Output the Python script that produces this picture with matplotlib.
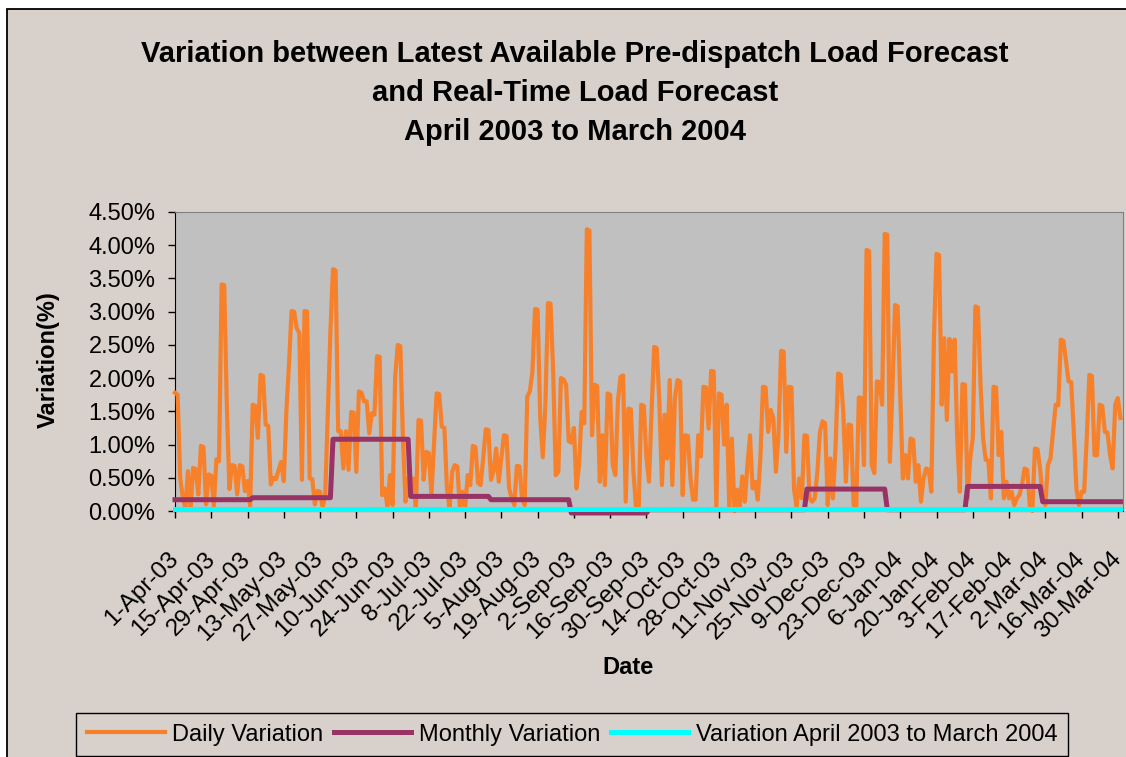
import numpy as np
import matplotlib.pyplot as plt
from matplotlib.patches import Rectangle

plt.rcParams['font.family'] = ['Liberation Sans', 'DejaVu Sans']

# monthly data (Apr-03 .. Mar-04)
days_in_month = [30, 31, 30, 31, 31, 30, 31, 30, 31, 31, 29, 31]
monthly_var = [0.17, 0.20, 1.08, 0.22, 0.17, -0.03, 0.02, 0.02, 0.33, 0.02, 0.37, 0.14]
overall_var = 0.03

# daily variation (%), 1-Apr-03 .. 31-Mar-04
daily_var = [
    # Apr / May
    1.78, 1.75, 0.50, 0.20, 0.05, 0.60, 0.02, 0.65, 0.63, 0.25,
    0.98, 0.96, 0.10, 0.55, 0.53, 0.08, 0.78, 0.75, 3.41, 3.40,
    1.60, 0.33, 0.69, 0.68, 0.25, 0.69, 0.67, 0.30, 0.45, 0.08,
    1.60, 1.58, 1.10, 2.05, 2.03, 1.30, 1.28, 0.40, 0.50, 0.48,
    0.62, 0.74, 0.45, 1.50, 2.20, 3.01, 3.00, 2.75, 2.68, 0.47,
    3.01, 3.00, 0.49, 0.48, 0.10, 0.30, 0.29, 0.05, 0.25, 1.50,
    2.70, 3.64, 3.62,
    # Jun / Jul
    1.20, 1.20, 0.64, 1.20, 0.62, 1.49, 1.48, 0.59, 1.80, 1.78,
    1.65, 1.65, 1.17, 1.47, 1.45, 2.33, 2.32, 0.24, 0.34, 0.07,
    0.54, 0.09, 2.02, 2.50, 2.48, 1.10, 0.14, 0.49, 0.24, 0.49,
    0.04, 1.37, 1.36, 0.47, 0.89, 0.87, 0.24, 0.99, 1.77, 1.76,
    1.27, 1.25, 0.33, 0.04, 0.59, 0.69, 0.67, 0.04, 0.29, 0.04,
    0.54, 0.39, 0.98, 0.96, 0.42, 0.39, 0.80, 1.23, 1.22, 0.47,
    0.60, 0.94,
    # Aug / Sep
    0.44, 0.80, 1.14, 1.13, 0.34, 0.19, 0.09, 0.68, 0.67, 0.19,
    0.09, 1.72, 1.80, 2.10, 3.04, 3.03, 1.40, 0.81, 1.60, 3.13,
    3.12, 2.10, 0.54, 0.59, 2.00, 1.98, 1.90, 1.05, 1.03, 1.25,
    0.34, 0.69, 1.49, 1.32, 4.24, 4.22, 1.14, 1.90, 1.88, 0.44,
    1.14, 0.39, 1.77, 1.75, 0.69, 0.54, 1.65, 2.02, 2.04, 0.14,
    1.54, 1.53, 0.60, 0.04, 0.00, 1.60, 1.58, 0.80, 0.44, 1.50,
    2.47, 2.45,
    # Oct / Nov
    1.65, 0.39, 1.45, 0.79, 1.97, 0.39, 1.70, 1.97, 1.95, 0.24,
    1.14, 1.13, 0.50, 0.17, 0.17, 1.14, 0.82, 1.87, 1.86, 1.24,
    2.11, 2.10, 0.04, 1.77, 1.75, 1.00, 1.60, 0.04, 1.09, 0.00,
    0.32, 0.04, 0.52, 0.14, 0.69, 1.14, 0.34, 0.44, 0.17, 0.79,
    1.87, 1.86, 1.19, 1.52, 1.40, 0.59, 1.14, 2.41, 2.40, 0.89,
    1.87, 1.86, 0.32, 0.07, 0.49, 0.19, 1.14,
    # Dec / Jan
    1.13, 0.19, 0.14, 0.19, 0.59, 1.19, 1.35, 1.32, 0.09, 0.79,
    0.19, 0.94, 2.07, 2.05, 1.50, 0.44, 1.30, 1.29, 0.09, 0.04,
    1.71, 1.70, 0.69, 3.93, 3.91, 0.69, 0.57, 1.95, 1.94, 1.60,
    4.17, 4.16, 0.74, 1.85, 3.10, 3.08, 1.75, 0.49, 0.84, 0.49,
    1.09, 1.07, 0.44, 0.69, 0.14, 0.49, 0.64, 0.62, 0.29, 2.60,
    3.87, 3.85, 1.60, 2.60, 1.37, 2.59, 2.10, 2.58, 1.09, 0.29,
    1.91, 1.90, 0.19, 0.79, 1.09, 3.08, 3.06,
    # Feb / Mar
    1.90, 1.09, 0.77, 0.76, 0.19, 1.87, 1.86, 0.84, 1.19, 0.19,
    0.44, 0.19, 0.29, 0.09, 0.19, 0.24, 0.39, 0.64, 0.62, 0.09,
    0.00, 0.94, 0.93, 0.64, 0.19, 0.09, 0.69, 0.79, 1.19, 1.60,
    1.59, 2.58, 2.56, 2.25, 1.95, 1.94, 1.19, 0.34, 0.09, 0.29,
    0.29, 1.09, 2.05, 2.03, 0.84, 0.84, 1.60, 1.58, 1.19, 1.18,
    0.84, 0.64, 1.60, 1.70, 1.40,
]

tick_labels = ["1-Apr-03", "15-Apr-03", "29-Apr-03", "13-May-03", "27-May-03",
               "10-Jun-03", "24-Jun-03", "8-Jul-03", "22-Jul-03", "5-Aug-03",
               "19-Aug-03", "2-Sep-03", "16-Sep-03", "30-Sep-03", "14-Oct-03",
               "28-Oct-03", "11-Nov-03", "25-Nov-03", "9-Dec-03", "23-Dec-03",
               "6-Jan-04", "20-Jan-04", "3-Feb-04", "17-Feb-04", "2-Mar-04",
               "16-Mar-04", "30-Mar-04"]

title_text = ("Variation between Latest Available Pre-dispatch Load Forecast\n"
              "and Real-Time Load Forecast\nApril 2003 to March 2004")

x = np.arange(len(daily_var))
monthly = np.repeat(monthly_var, days_in_month)
overall = np.full(len(x), overall_var)

W, H = 1126, 757
bg = "#D8D0CA"
fig = plt.figure(figsize=(W / 100, H / 100), dpi=100, facecolor="white")
# chart area frame
fig.patches.append(Rectangle((7.5 / W, -0.1), 1.1, (H - 9) / H + 0.1,
                             transform=fig.transFigure, facecolor=bg,
                             edgecolor="black", lw=1.3, zorder=-10))

ax = fig.add_axes([175 / W, 1 - 511 / H, (1123 - 175) / W, (511 - 212) / H])
ax.set_facecolor("#C0C0C0")

l1, = ax.plot(x, daily_var, color="#F7812B", lw=3.0, clip_on=False, zorder=3)
l2, = ax.plot(x, monthly, color="#993366", lw=3.6, clip_on=False, zorder=4)
l3, = ax.plot(x, overall, color="#00FFFF", lw=3.6, clip_on=False, zorder=5)

ax.set_xlim(0, 366)
ax.set_ylim(0, 4.5)
ax.set_yticks(np.arange(0, 4.51, 0.5))
ax.set_yticklabels([f"{v:.2f}%" for v in np.arange(0, 4.51, 0.5)], fontsize=17)
ax.set_xticks(np.arange(0, 365, 14))
ax.set_xticklabels(tick_labels, rotation=45, ha="right", va="center",
                   rotation_mode="anchor", fontsize=17.5)
ax.tick_params(axis="both", direction="out", length=5, width=1, color="black")
ax.tick_params(axis="x", pad=27)
ax.tick_params(axis="y", pad=9)
for s in ["left", "bottom"]:
    ax.spines[s].set_color("black")
for s in ["top", "right"]:
    ax.spines[s].set_color("#808080")

fig.text(575 / W, 1 - 93 / H, title_text, ha="center", va="center",
         fontsize=21, fontweight="bold", linespacing=1.48)
fig.text(48 / W, 1 - 360 / H, "Variation(%)", rotation=90, ha="center",
         va="center", fontsize=17, fontweight="bold")
fig.text(628 / W, 1 - 667 / H, "Date", ha="center", va="center",
         fontsize=17, fontweight="bold")

leg = fig.legend([l1, l2, l3],
                 ["Daily Variation", "Monthly Variation",
                  "Variation April 2003 to March 2004"],
                 loc="upper center", bbox_to_anchor=(572 / W, 1 - 713 / H),
                 ncol=3, fontsize=17, frameon=True, fancybox=False,
                 edgecolor="black", facecolor=bg, framealpha=1,
                 handlelength=3.3, handletextpad=0.3, columnspacing=0.45,
                 borderpad=0.45, borderaxespad=0)
leg.get_frame().set_linewidth(1.0)

fig.savefig("out.png", dpi=100, facecolor=fig.get_facecolor())
